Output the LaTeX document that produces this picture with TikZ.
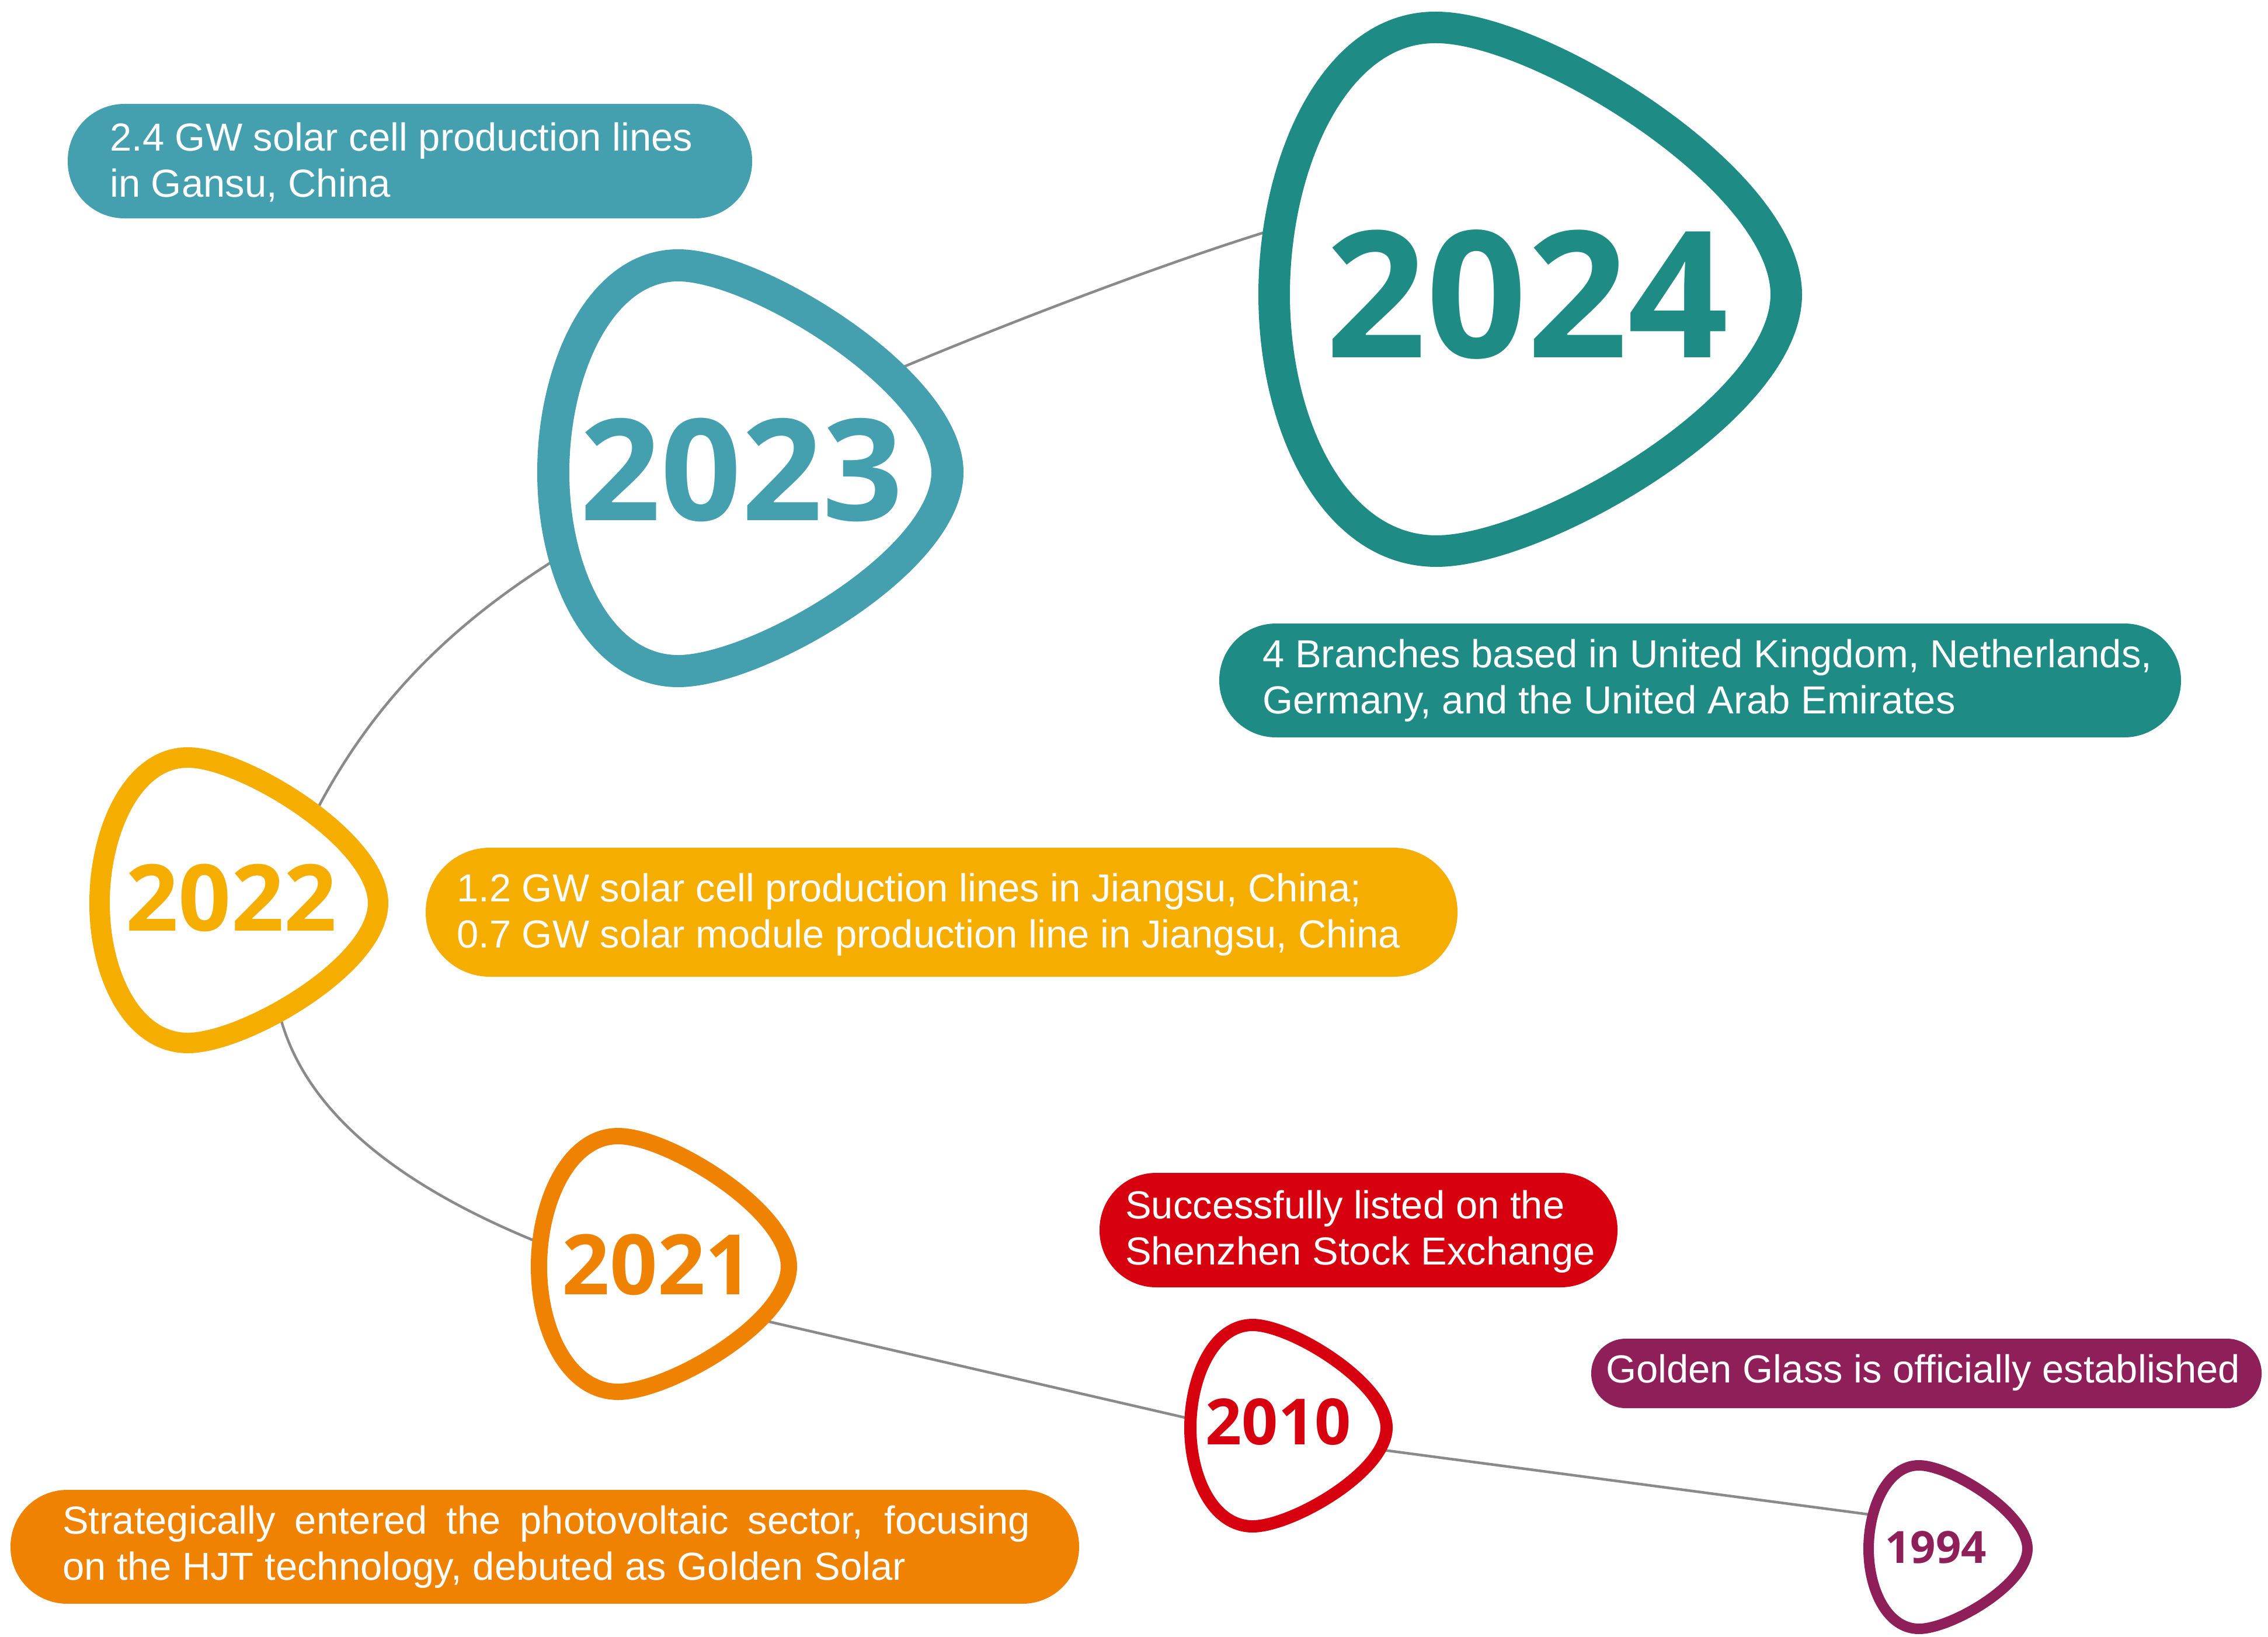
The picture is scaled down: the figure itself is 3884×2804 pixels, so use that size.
\documentclass[tikz,border=0pt]{standalone}
\usepackage{fontspec}
\setmainfont{Liberation Sans}
\IfFontExistsTF{Noto Sans Bold}
  {\newfontfamily\yearfont{Noto Sans Bold}}
  {\IfFontExistsTF{Open Sans Bold}
     {\newfontfamily\yearfont{Open Sans Bold}}
     {\newfontfamily\yearfont{Noto Sans}[FakeBold=3]}}
\definecolor{cteal}{HTML}{1E8C84}
\definecolor{cblue}{HTML}{44A0AF}
\definecolor{cyellow}{HTML}{F5AD00}
\definecolor{corange}{HTML}{EF8200}
\definecolor{cred}{HTML}{D6000F}
\definecolor{cpurple}{HTML}{8E1F59}
\definecolor{cline}{HTML}{8A8A8A}
\newcommand\yearblob[6]{%
  \begin{scope}[shift={(#1,#2)},xscale=#3,yscale=#4]
    \draw[draw=#5,line width=#6,fill=white]
      (0.317,0) .. controls (0.517,0) and (1,0.29) .. (1,0.51)
      .. controls (1,0.73) and (0.517,1) .. (0.317,1)
      .. controls (0.117,1) and (0,0.76) .. (0,0.51)
      .. controls (0,0.26) and (0.117,0) .. cycle;
  \end{scope}}
\tikzset{
  conn/.style={draw=cline,line width=4.5pt},
  pill/.style={fill=#1,inner sep=0pt,rounded corners=97pt},
  txt/.style={text=white,font=\fontsize{67}{79}\selectfont,align=left,anchor=west,inner sep=0pt},
  yr/.style={text=#1,inner sep=0pt,anchor=center}
}
\begin{document}
\begin{tikzpicture}[x=1pt,y=-1pt]
\useasboundingbox (0,0) rectangle (3884,2804);

% connector points
\coordinate (a) at (2185,392);
\coordinate (b) at (1527,637);
\coordinate (c) at (955,956);
\coordinate (d) at (534,1404);
\coordinate (e) at (475,1721);
\coordinate (f) at (937,2134);
\coordinate (g) at (1296,2259);
\coordinate (h) at (2059,2435);
\coordinate (i) at (2363,2483);
\coordinate (j) at (3223,2597);

\draw[conn] (a) .. controls (1994,450) and (1711,559) .. (b);
\draw[conn] (c) .. controls (768,1073) and (633,1208) .. (d);
\draw[conn] (e) .. controls (513,1907) and (695,2038) .. (f);
\draw[conn] (g) -- (h);
\draw[conn] (i) -- (j);

% text boxes
\node[pill=cblue,minimum width=1172pt,minimum height=196pt] (b1) at (702,276) {};
\node[pill=cteal,minimum width=1647pt,minimum height=195pt] (b2) at (2911.5,1165.5) {};
\node[pill=cyellow,rounded corners=110pt,minimum width=1767pt,minimum height=221pt] (b3) at (1612.5,1562.5) {};
\node[pill=cred,minimum width=887pt,minimum height=196pt] (b4) at (2326.5,2107) {};
\node[pill=cpurple,rounded corners=59pt,minimum width=1148pt,minimum height=119pt] (b5) at (3299,2352.5) {};
\node[pill=corange,minimum width=1830pt,minimum height=195pt] (b6) at (933,2649.5) {};

\node[txt] (t1) at (188,278) {2.4 GW solar cell production lines\\in Gansu, China};
\node[txt] (t2) at (2162,1166) {4 Branches based in United Kingdom, Netherlands,\\Germany, and the United Arab Emirates};
\node[txt] (t3) at (782,1567) {1.2 GW solar cell production lines in Jiangsu, China;\\0.7 GW solar module production line in Jiangsu, China};
\node[txt] (t4) at (1927,2110) {Successfully listed on the\\Shenzhen Stock Exchange};
\node[txt] (t5) at (2750,2351) {Golden Glass is officially established};
\node[txt] (t6) at (107,2650) {\makebox[1657pt][s]{Strategically entered the photovoltaic sector, focusing}\\on the HJT technology, debuted as Golden Solar};

% year blobs
\yearblob{2182}{47}{877}{897}{cteal}{54pt}
\yearblob{947.5}{454.5}{675}{695}{cblue}{55pt}
\yearblob{170.5}{1297.5}{477}{489}{cyellow}{35pt}
\yearblob{923}{1946}{428}{438}{corange}{28pt}
\yearblob{2038.5}{2269.5}{336}{345}{cred}{21pt}
\yearblob{3200}{2510}{272}{280}{cpurple}{18pt}

\node[yr=cteal,font=\yearfont\fontsize{302}{302}\selectfont] (y2024) at (2615,504) {2024};
\node[yr=cblue,font=\yearfont\fontsize{242}{242}\selectfont] (y2023) at (1270,805) {2023};
\node[yr=cyellow,font=\yearfont\fontsize{158}{158}\selectfont] (y2022) at (396,1538) {2022};
\node[yr=corange,font=\yearfont\fontsize{143}{143}\selectfont] (y2021) at (1126,2166) {2021};
\node[yr=cred,font=\yearfont\fontsize{109}{109}\selectfont] (y2010) at (2189,2435) {2010};
\node[yr=cpurple,font=\yearfont\fontsize{76}{76}\selectfont] (y1994) at (3315,2650) {1994};
\end{tikzpicture}
\end{document}
